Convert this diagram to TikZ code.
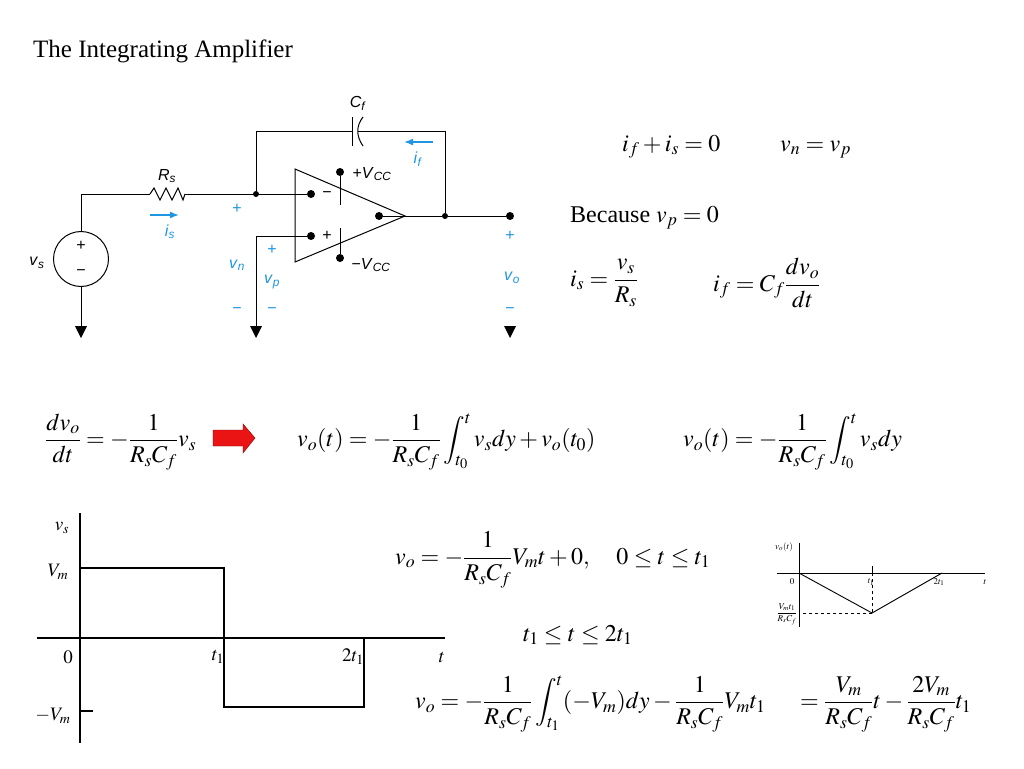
\documentclass[tikz,border=0pt]{standalone}
\usepackage{mathptmx}
\usepackage{fontspec}
\setmainfont{Liberation Serif}
\newfontfamily\circfont{Liberation Sans}
\usetikzlibrary{
  arrows.meta,
  calc,
  positioning,
}
\definecolor{labelblue}{RGB}{30,150,225}
\definecolor{arrowred}{RGB}{235,20,20}
\tikzstyle{wire} = [line width=1pt, black]
\tikzstyle{dot} = [circle, fill=black, inner sep=0pt, minimum size=8pt]
\tikzstyle{junction} = [circle, fill=black, inner sep=0pt, minimum size=6pt]
\tikzstyle{clabel} = [font=\circfont\fontsize{16}{19}\selectfont, inner sep=0pt]
\tikzstyle{blabel} = [clabel, text=labelblue]
\tikzstyle{eqn} = [font=\fontsize{24}{28}\selectfont, inner sep=0pt, anchor=west]
\tikzstyle{plab} = [font=\fontsize{19}{22}\selectfont, inner sep=0pt]
\tikzstyle{slab} = [font=\fontsize{9}{10}\selectfont, inner sep=0pt]
\tikzstyle{current} = [-{Latex[length=9pt,width=7pt]}, line width=1.6pt, labelblue]
\newcommand{\cvar}[2]{\textit{#1}\textsubscript{\textit{#2}}}

\begin{document}
\begin{tikzpicture}[x=1pt,y=-1pt]
  \useasboundingbox (0,0) rectangle (1024,768);
  \fill[white] (0,0) rectangle (1024,768);

  \node[anchor=base west, font=\fontsize{25}{29}\selectfont, inner sep=0pt] (title) at (33,58) {The Integrating Amplifier};

  % circuit
  \node[circle, draw, line width=1pt, minimum size=55pt, inner sep=0pt] (vs) at (81,259) {};
  \node[clabel] at (81,246) {+};
  \node[clabel] at (81,273) {−};
  \coordinate (vsTop) at (81,194);
  \coordinate (rsA) at (150,194);
  \coordinate (rsB) at (185,194);
  \node[junction] (nA) at (256,194) {};
  \node[dot] (inN) at (311,194) {};
  \node[dot] (inP) at (311,236) {};
  \coordinate (pCorner) at (256,236);
  \coordinate (fbL) at (256,131);
  \coordinate (fbR) at (445,131);
  \coordinate (cfA) at (352,131);
  \coordinate (cfB) at (358,131);
  \node[dot] (outI) at (379,216) {};
  \node[junction] (nB) at (445,216) {};
  \node[dot] (vo) at (510,216) {};
  \node[dot] (vcp) at (340,172) {};
  \node[dot] (vcm) at (340,258) {};
  \coordinate (vcpEnd) at (340,205);
  \coordinate (vcmEnd) at (340,228);
  \coordinate (g1) at (81,326);
  \coordinate (g2) at (256,326);
  \coordinate (g3) at (510,326);

  \draw[wire] (295,169) -- (295,262) -- (405,216) -- cycle;
  \draw[wire] (vs.north) -- (vsTop) -- (rsA);
  \draw[wire] (rsA) -- (154,188) -- (160,200) -- (166,188) -- (172,200) -- (178,188) -- (183,200) -- (rsB);
  \draw[wire] (rsB) -- (nA) -- (inN);
  \draw[wire] (nA) -- (fbL) -- (cfA);
  \draw[wire] ($(cfA)+(0,-14)$) -- ($(cfA)+(0,15)$);
  \draw[wire] (363,117) .. controls (356,126) and (356,136) .. (363,146);
  \draw[wire] (cfB) -- (fbR) -- (nB);
  \draw[wire] (outI) -- (nB) -- (vo);
  \draw[wire] (inP) -- (pCorner) -- (g2);
  \draw[wire] (vs.south) -- (g1);
  \draw[wire] (vcp) -- (vcpEnd);
  \draw[wire] (vcm) -- (vcmEnd);
  \foreach \g in {g1,g2,g3}
    \fill (\g) ++(-6,0) -- ++(12,0) -- ++(-6,12) -- cycle;

  \draw[current] (150,215) -- (179,215);
  \draw[current] (433,142) -- (404,142);

  \node[clabel] at (358,103) {\cvar{C}{f}};
  \node[clabel] at (167,176) {\cvar{R}{s}};
  \node[clabel] at (372,174) {+\cvar{V}{CC}};
  \node[clabel] at (371,265) {−\cvar{V}{CC}};
  \node[clabel] at (327,195) {−};
  \node[clabel] at (327,236) {+};
  \node[clabel] at (37,263) {\cvar{v}{s}};
  \node[blabel] at (170,232) {\cvar{i}{s}};
  \node[blabel] at (418,159) {\cvar{i}{f}};
  \node[blabel] at (237,209) {+};
  \node[blabel] at (237,265) {\cvar{v}{n}};
  \node[blabel] at (237,311) {−};
  \node[blabel] at (272,250) {+};
  \node[blabel] at (272,282) {\cvar{v}{p}};
  \node[blabel] at (272,311) {−};
  \node[blabel] at (510,236) {+};
  \node[blabel] at (512,278) {\cvar{v}{o}};
  \node[blabel] at (510,311) {−};

  % equations
  \node[eqn, anchor=base west] (kcl) at (622,151) {$i_f + i_s = 0$};
  \node[eqn, anchor=base west] (vnvp) at (780,151) {$v_n = v_p$};
  \node[eqn, anchor=base west] (because) at (570,222) {Because $v_p = 0$};
  \node[eqn] (isEq) at (570,283) {$\displaystyle i_s = \frac{v_s}{R_s}$};
  \node[eqn] (ifEq) at (713,283) {$\displaystyle i_f = C_f\frac{dv_o}{dt}$};
  \node[eqn] (dvEq) at (45,442) {$\displaystyle \frac{dv_o}{dt} = -\frac{1}{R_sC_f}v_s$};
  \fill[arrowred, draw=black!50!red] (213,430) -- (243,430) -- (243,424) -- (255,438) -- (243,453) -- (243,446) -- (213,446) -- cycle;
  \node[eqn] (voFull) at (297,442) {$\displaystyle v_o(t) = -\frac{1}{R_sC_f}\int_{t_0}^{t} v_s dy + v_o(t_0)$};
  \node[eqn] (voZero) at (683,442) {$\displaystyle v_o(t) = -\frac{1}{R_sC_f}\int_{t_0}^{t} v_s dy$};
  \node[eqn] (voRamp) at (395,560) {$\displaystyle v_o = -\frac{1}{R_sC_f}V_m t + 0,\quad 0 \le t \le t_1$};
  \node[eqn] (range) at (523,635) {$t_1 \le t \le 2t_1$};
  \node[eqn] (voBack) at (415,704) {$\displaystyle v_o = -\frac{1}{R_sC_f}\int_{t_1}^{t}(-V_m)dy - \frac{1}{R_sC_f}V_m t_1 \quad\; = \frac{V_m}{R_sC_f}t - \frac{2V_m}{R_sC_f}t_1$};

  % input waveform
  \draw[line width=1.3pt] (80,513) -- (80,743);
  \draw[line width=1.3pt] (37,638) -- (445,638);
  \draw[line width=1.6pt] (80,638) -- (80,568) -- (224,568) -- (224,707) -- (364,707) -- (364,638);
  \draw[line width=1.3pt] (80,711) -- (93,711);
  \node[plab] at (62,528) {$v_s$};
  \node[plab] at (58,572) {$V_m$};
  \node[plab] at (68,657) {$0$};
  \node[plab] at (218,657) {$t_1$};
  \node[plab] at (353,657) {$2t_1$};
  \node[plab] at (442,657) {$t$};
  \node[plab] at (53,716) {$-V_m$};

  % output waveform
  \draw[line width=0.8pt] (799,543) -- (799,627);
  \draw[line width=0.8pt] (777,573) -- (985,573);
  \draw[line width=0.9pt] (799,573) -- (872,613) -- (942,573);
  \draw[line width=0.6pt] (872,566) -- (872,573);
  \draw[line width=0.6pt, dashed] (872,573) -- (872,613);
  \draw[line width=0.6pt, dashed] (803,613) -- (872,613);
  \node[slab] at (784,547) {$v_o(t)$};
  \node[slab] at (792,582) {$0$};
  \node[slab] at (871,582) {$t_1$};
  \node[slab] at (939,582) {$2t_1$};
  \node[slab] at (985,582) {$t$};
  \node[slab] at (787,614) {$\displaystyle\frac{V_mt_1}{R_sC_f}$};
\end{tikzpicture}
\end{document}
